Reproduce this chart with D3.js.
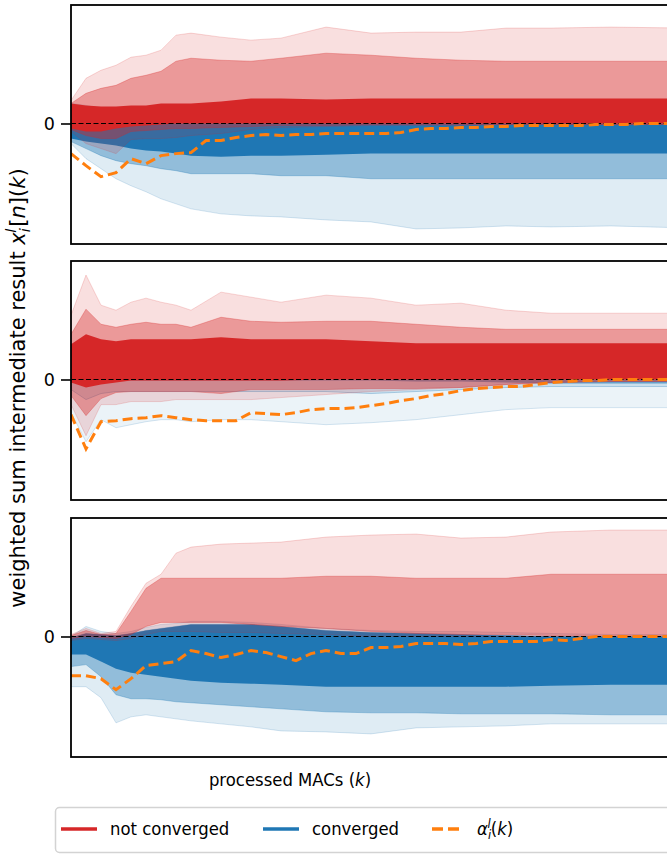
<!DOCTYPE html>
<html>
<head>
<meta charset="utf-8">
<script src="https://d3js.org/d3.v7.min.js"></script>
<style>
  body { margin: 0; background: #fff; }
  svg { display: block; font-family: "DejaVu Sans", sans-serif; }
</style>
</head>
<body>
<div id="chart"></div>
<script>
// sample index along the processed-MAC axis
const macs = [0,1,2,3,4,5,6,7,8,9,10,11,12,13,14,15,16,17,18,19,20,
              21,22,23,24,25,26,27,28,29,30,31,32,33,34,35,36,37,38,39,40,41];
const knots = [0,1,2,3,4,5,6,7,8,10,12,14,17,20,23,26,29,32,36,41];

// alpha_i^l(k), one per panel
const alpha1 = [-30,-42,-53,-49,-35,-40,-32,-30,-29,-17,-17,-14,-12,-11,-12,-11,-11,-10,-10,-10,-10,
                -10,-9,-6,-5,-5,-4,-4,-3,-3,-2,-2,-2,-2,-2,-1,-1,-1,0,0,0,0];
const alpha2 = [-35,-69,-42,-41,-39,-38,-36,-38,-40,-41,-41,-41,-33,-34,-35,-33,-30,-29,-29,-28,-26,
                -24,-21,-19,-16,-14,-11,-9,-8,-7,-7,-5,-3,-2,-1,-1,0,0,0,0,0,0];
const alpha3 = [-39,-39,-42,-53,-42,-29,-27,-25,-14,-17,-21,-18,-14,-16,-20,-24,-17,-14,-17,-17,-11,
                -11,-10,-7,-7,-7,-8,-7,-5,-5,-5,-5,-3,-4,-2,0,0,0,0,0,0,0];

// panel 1 bundles: faint / medium / core extents (hi, lo)
const p1RedFaintHi = [23,45,53,58,66,68,73,88,90,86,83,85,96,90,91,91,95,95,96,95];
const p1RedMedHi   = [20,30,35,38,45,48,52,62,65,63,62,65,70,68,65,63,62,62,62,62];
const p1RedCoreHi  = [20,18,17,17,18,18,20,20,20,22,25,25,24,25,25,25,25,25,25,25];
const p1RedCoreLo  = [-5,-8,-8,-5,-3,-2,-1,0,0,0,0,0,0,0,0,0,0,0,0,0];
const p1RedMedLo   = [-6,-12,-15,-15,-8,-7,-6,-5,-5,-4,-3,-2,-2,-1,-1,-1,-1,-1,-1,-1];
const p1RedFaintLo = [-8,-20,-25,-30,-16,-15,-15,-14,-12,-10,-6,-4,-3,-2,-2,-2,-1,-1,-1,-1];
const p1BlueFaintHi = [20,18,15,12,10,8,6,5,4,3,3,2,2,1,1,1,1,1,1,1];
const p1BlueCoreHi  = [10,8,6,5,3,2,1,0,0,0,0,0,0,0,0,0,0,0,0,0];
const p1BlueCoreLo  = [-15,-18,-20,-22,-25,-27,-28,-30,-32,-33,-32,-32,-31,-30,-30,-30,-30,-30,-30,-30];
const p1BlueMedLo   = [-18,-25,-32,-37,-40,-42,-45,-47,-50,-50,-50,-52,-52,-55,-55,-55,-55,-55,-55,-55];
const p1BlueFaintLo = [-20,-35,-45,-55,-62,-68,-75,-80,-85,-90,-92,-93,-96,-98,-105,-104,-102,-103,-102,-104];

// panel 2
const p2RedFaintHi = [64,104,74,69,77,81,77,74,69,87,82,77,84,81,74,76,69,66,66,66];
const p2RedMedHi   = [45,70,55,52,55,57,55,55,52,62,58,57,58,58,55,52,50,50,50,50];
const p2RedCoreHi  = [35,45,40,38,40,40,40,40,40,42,40,40,40,38,36,36,36,36,36,36];
const p2RedCoreLo  = [-3,-8,-5,-3,-1,-1,-1,-1,-1,-1,-1,-1,0,0,0,0,0,0,0,0];
const p2RedMedLo   = [-16,-36,-19,-13,-12,-12,-12,-12,-12,-14,-10,-10,-10,-9,-9,-8,-5,-3,-2,-2];
const p2RedFaintLo = [-25,-56,-25,-25,-22,-22,-22,-20,-20,-20,-20,-18,-15,-12,-10,-8,-5,-3,-2,-2];
const p2BlueFaintHi = [5,5,3,2,2,2,2,2,2,2,2,2,2,2,2,2,2,1,1,1];
const p2BlueCoreHi  = [0,0,0,0,0,0,0,0,0,0,0,0,0,0,0,0,0,0,0,0];
const p2BlueCoreLo  = [-1,-2,-1,-1,-1,-1,-1,-1,-1,-1,-1,-1,-1,-1,-2,-2,-3,-4,-4,-4];
const p2BlueMedLo   = [-10,-20,-14,-12,-12,-12,-12,-12,-12,-12,-12,-12,-12,-14,-12,-10,-8,-7,-7,-7];
const p2BlueFaintLo = [-33,-62,-40,-48,-45,-42,-40,-40,-42,-40,-40,-42,-45,-43,-40,-35,-30,-28,-28,-28];

// panel 3
const p3RedFaintHi = [2,8,3,5,30,53,62,83,89,92,93,94,99,101,102,98,99,104,106,106];
const p3RedMedHi   = [1,6,2,3,25,48,58,58,58,58,58,58,60,60,58,58,58,62,62,62];
const p3RedMedLo   = [-2,0,-1,-2,2,10,14,14,14,14,12,10,8,5,3,2,2,1,1,1];
const p3RedFaintLo = [-4,-2,-3,-4,-2,2,5,5,5,4,4,3,2,0,0,0,0,0,0,0];
const p3BlueFaintHi = [0,10,5,3,5,9,12,13,15,15,14,12,8,6,5,5,4,3,2,2];
const p3BlueCoreHi  = [-1,3,2,1,3,6,8,10,12,12,12,10,6,4,3,2,1,0,0,0];
const p3BlueCoreLo  = [-18,-18,-25,-32,-36,-38,-40,-42,-44,-46,-47,-48,-50,-50,-50,-50,-50,-49,-48,-48];
const p3BlueMedLo   = [-30,-28,-40,-58,-62,-62,-63,-65,-66,-68,-70,-72,-75,-76,-76,-77,-77,-77,-78,-78];
const p3BlueFaintLo = [-50,-50,-61,-86,-80,-78,-80,-82,-84,-87,-90,-94,-95,-97,-91,-90,-89,-87,-87,-87];

const RED = "#d62728", BLUE = "#1f77b4", ORANGE = "#ff7f0e";

const panels = [
  { top: 5, alpha: alpha1, blueOpacity: [0.14, 0.4, 1],
    blue: [[p1BlueFaintHi, p1BlueFaintLo], [p1BlueCoreHi, p1BlueMedLo], [p1BlueCoreHi, p1BlueCoreLo]],
    red:  [[p1RedFaintHi, p1RedFaintLo], [p1RedMedHi, p1RedMedLo], [p1RedCoreHi, p1RedCoreLo]] },
  { top: 261, alpha: alpha2, blueOpacity: [0.09, 0.16, 0.6],
    blue: [[p2BlueFaintHi, p2BlueFaintLo], [p2BlueCoreHi, p2BlueMedLo], [p2BlueCoreHi, p2BlueCoreLo]],
    red:  [[p2RedFaintHi, p2RedFaintLo], [p2RedMedHi, p2RedMedLo], [p2RedCoreHi, p2RedCoreLo]] },
  { top: 518, alpha: alpha3, blueOpacity: [0.14, 0.4, 1],
    blue: [[p3BlueFaintHi, p3BlueFaintLo], [p3BlueCoreHi, p3BlueMedLo], [p3BlueCoreHi, p3BlueCoreLo]],
    red:  [[p3RedFaintHi, p3RedFaintLo], [p3RedMedHi, p3RedMedLo]] }
];
const redOpacity = [0.15, 0.38, 1];

const W = 667, H = 855;
const left = 71, right = 686, ph = 239;
const FS = "16.5px";
const stretch = 1.05;

const svg = d3.select("#chart").append("svg")
  .attr("width", W).attr("height", H);

const x = d3.scaleLinear().domain([0, 41]).range([left, right]);

panels.forEach((p, pi) => {
  const y = d3.scaleLinear().domain([-120, 118]).range([p.top + ph, p.top]);
  const g = svg.append("g");
  const clipId = "clip" + pi;
  g.append("clipPath").attr("id", clipId)
    .append("rect").attr("x", left).attr("y", p.top).attr("width", right - left).attr("height", ph);
  const plot = g.append("g").attr("clip-path", "url(#" + clipId + ")");

  const band = d3.area()
    .x((d, i) => x(knots[i]))
    .y0(d => y(d[1]))
    .y1(d => y(d[0]));
  const trace = d3.line().x((d, i) => x(knots[i])).y(d => y(d));

  function drawBundle(layers, color, opac) {
    layers.forEach((pair, li) => {
      const rows = knots.map((k, i) => [pair[0][i], pair[1][i]]);
      plot.append("path")
        .attr("d", band(rows))
        .attr("fill", color)
        .attr("fill-opacity", opac[li]);
      // outermost members of each layer, drawn as single traces
      if (li < 2) {
        [0, 1].forEach(side => {
          plot.append("path")
            .attr("d", trace(pair[side]))
            .attr("fill", "none")
            .attr("stroke", color)
            .attr("stroke-opacity", li === 0 ? 0.18 : 0.3)
            .attr("stroke-width", 1);
        });
      }
    });
  }
  drawBundle(p.blue, BLUE, p.blueOpacity);
  drawBundle(p.red, RED, redOpacity);

  // zero reference
  plot.append("line")
    .attr("x1", left).attr("x2", right)
    .attr("y1", y(0)).attr("y2", y(0))
    .attr("stroke", "#000").attr("stroke-width", 1.2)
    .attr("stroke-dasharray", "5,2.5");

  // alpha_i^l(k)
  plot.append("path")
    .attr("d", d3.line().x((d, i) => x(macs[i])).y(d => y(d))(p.alpha))
    .attr("fill", "none")
    .attr("stroke", ORANGE)
    .attr("stroke-width", 3)
    .attr("stroke-dasharray", "10,5");

  // spines
  g.append("rect")
    .attr("x", left).attr("y", p.top).attr("width", right - left).attr("height", ph)
    .attr("fill", "none").attr("stroke", "#000").attr("stroke-width", 1.8);

  // y tick at 0
  const yAxis = d3.axisLeft(y).tickValues([0]).tickSize(10).tickPadding(6).tickFormat(d3.format("d"));
  const ax = g.append("g").attr("transform", "translate(" + left + ",0)").call(yAxis);
  ax.select(".domain").remove();
  ax.selectAll("line").attr("stroke-width", 1.6);
  ax.selectAll("text")
    .style("font-size", "17.5px").style("font-family", "DejaVu Sans").attr("fill", "#000");
});

// y label
const ylab = svg.append("text")
  .attr("transform", "translate(25,388) rotate(-90)")
  .attr("text-anchor", "middle")
  .style("font-size", "21px");
ylab.append("tspan").text("weighted sum intermediate result ");
ylab.append("tspan").attr("font-style", "italic").text("x");
ylab.append("tspan").attr("font-style", "italic").attr("font-size", "14.5px").attr("dy", 5).text("i");
ylab.append("tspan").attr("font-style", "italic").attr("font-size", "14.5px").attr("dx", -4.5).attr("dy", -14).text("l");
ylab.append("tspan").attr("dy", 9).attr("dx", 2).text("[");
ylab.append("tspan").attr("font-style", "italic").text("n");
ylab.append("tspan").text("](");
ylab.append("tspan").attr("font-style", "italic").text("k");
ylab.append("tspan").text(")");

// x label
const xlab = svg.append("text")
  .attr("transform", "translate(290,786) scale(1," + stretch + ")")
  .attr("text-anchor", "middle")
  .style("font-size", FS);
xlab.append("tspan").text("processed MACs (");
xlab.append("tspan").attr("font-style", "italic").text("k");
xlab.append("tspan").text(")");

// legend
const legendItems = [
  { label: "not converged", color: RED, dash: null, x: 61 },
  { label: "converged", color: BLUE, dash: null, x: 263 },
  { label: "alpha", color: ORANGE, dash: "11,5", x: 432 }
];
const lg = svg.append("g");
lg.append("rect")
  .attr("x", 55.5).attr("y", 807.5).attr("width", 640).attr("height", 45)
  .attr("rx", 4).attr("fill", "#fff").attr("fill-opacity", 0.8)
  .attr("stroke", "#d3d3d3").attr("stroke-width", 1.5);
legendItems.forEach(it => {
  lg.append("line")
    .attr("x1", it.x).attr("x2", it.x + (it.dash ? 29 : 36))
    .attr("y1", 829).attr("y2", 829)
    .attr("stroke", it.color).attr("stroke-width", 3.5)
    .attr("stroke-dasharray", it.dash);
  const tx = it.dash ? it.x + 45 : it.x + 49;
  const t = lg.append("text")
    .attr("transform", "translate(" + tx + ",835) scale(1," + stretch + ")")
    .style("font-size", FS);
  if (it.label === "alpha") {
    t.append("tspan").attr("font-style", "italic").text("α");
    t.append("tspan").attr("font-style", "italic").attr("font-size", "11.5px").attr("dy", 4).text("i");
    t.append("tspan").attr("font-style", "italic").attr("font-size", "11.5px").attr("dx", -3.5).attr("dy", -11).text("l");
    t.append("tspan").attr("dy", 7).text("(");
    t.append("tspan").attr("font-style", "italic").text("k");
    t.append("tspan").text(")");
  } else {
    t.text(it.label);
  }
});
</script>
</body>
</html>
